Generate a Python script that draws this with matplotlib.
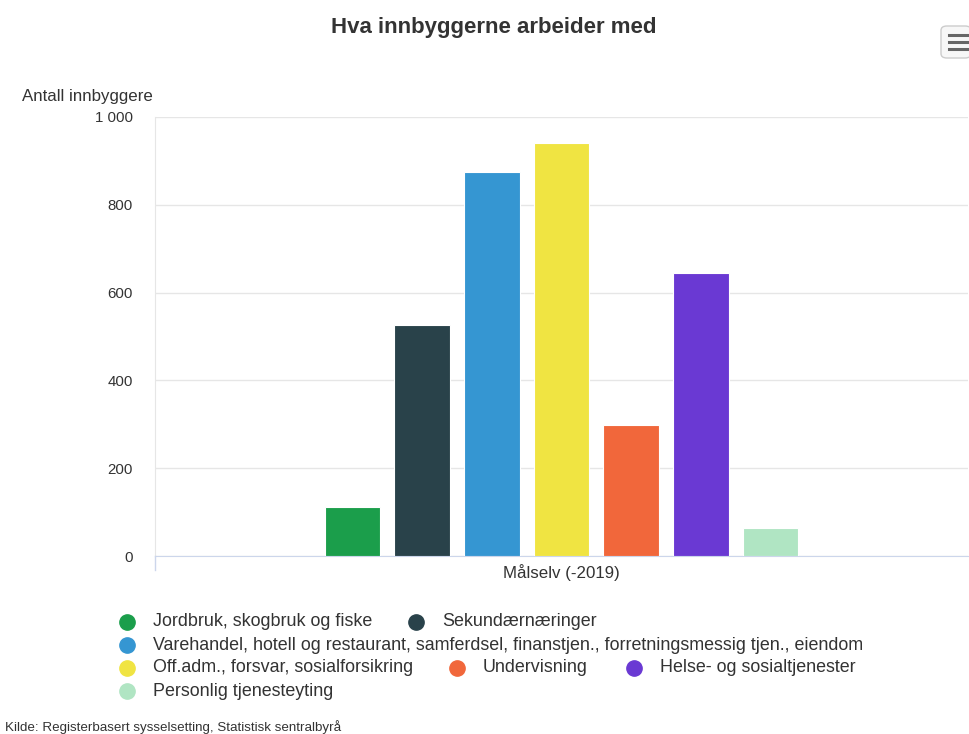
import matplotlib
matplotlib.use("Agg")
import matplotlib.pyplot as plt
from matplotlib.patches import FancyBboxPatch
from matplotlib.lines import Line2D

categories = ["Målselv (-2019)"]
series_names = [
    "Jordbruk, skogbruk og fiske",
    "Sekundærnæringer",
    "Varehandel, hotell og restaurant, samferdsel, finanstjen., forretningsmessig tjen., eiendom",
    "Off.adm., forsvar, sosialforsikring",
    "Undervisning",
    "Helse- og sosialtjenester",
    "Personlig tjenesteyting",
]
values = [112, 526, 875, 941, 298, 645, 64]
colors = ["#1b9e4b", "#29424a", "#3596d2", "#f0e442", "#f1673b", "#6a39d3", "#b0e5c3"]
yticks = [0, 200, 400, 600, 800, 1000]
ytick_labels = ["0", "200", "400", "600", "800", "1 000"]

plt.rcParams["font.family"] = ["Liberation Sans", "DejaVu Sans"]

W, H = 969, 734
fig = plt.figure(figsize=(W / 100, H / 100), dpi=100)
ax = fig.add_axes([155 / W, 1 - 556 / H, 813 / W, 439 / H])

n = len(values)
slot = 0.6 / n
for i, (v, c) in enumerate(zip(values, colors)):
    x = -0.3 + slot * (i + 0.5)
    ax.bar(x, v, width=slot * 0.8, color=c, edgecolor="white", linewidth=0.8, zorder=3)

ax.set_xlim(-0.5, 0.5)
ax.set_ylim(0, 1000)
ax.set_yticks(yticks)
ax.set_yticklabels(ytick_labels, fontsize=10.8, color="#333333")
ax.set_xticks([0])
ax.set_xticklabels(categories, fontsize=12.2, color="#333333")
ax.tick_params(axis="y", length=0, pad=16)
ax.tick_params(axis="x", length=0, pad=6)
ax.grid(axis="y", color="#e6e6e6", linewidth=1, zorder=0)
for s in ["top", "right"]:
    ax.spines[s].set_visible(False)
ax.spines["left"].set_color("#e6e6e6")
ax.spines["bottom"].set_color("#ccd6eb")
ax.spines["left"].set_zorder(1)

# x-axis tick mark at category edge
fig.add_artist(Line2D([155 / W, 155 / W], [1 - 556 / H, 1 - 570 / H], color="#ccd6eb", lw=1))

# Y axis title
fig.text(22 / W, 1 - 97 / H, "Antall innbyggere", fontsize=12.2, color="#333333", va="center", ha="left")

# Title
fig.text(494 / W, 1 - 28 / H, "Hva innbyggerne arbeider med", fontsize=16, fontweight="bold",
         color="#333333", ha="center", va="center")

# Menu button
btn = FancyBboxPatch((941 / W, 1 - 58 / H), 30 / W, 32 / H, boxstyle="round,pad=0,rounding_size=0.006",
                     transform=fig.transFigure, facecolor="#f7f7f7", edgecolor="#cccccc", lw=1)
fig.add_artist(btn)
for yy in [35, 42, 49]:
    fig.add_artist(Line2D([949 / W, 969 / W], [1 - yy / H, 1 - yy / H], color="#666666", lw=2.2))

# Legend
legend_rows = [
    [(0, 127), (1, 416)],
    [(2, 127)],
    [(3, 127), (4, 457), (5, 634)],
    [(6, 127)],
]
row_y = [622, 645, 668, 691]
for ry, row in zip(row_y, legend_rows):
    for idx, mx in row:
        fig.add_artist(Line2D([mx / W], [1 - ry / H], marker="o", markersize=11,
                              color=colors[idx], linestyle="none"))
        fig.text((mx + 26) / W, 1 - ry / H, series_names[idx], fontsize=12.9, color="#333333",
                 va="center", ha="left")

# Source
fig.text(5 / W, 1 - 727 / H, "Kilde: Registerbasert sysselsetting, Statistisk sentralbyrå", fontsize=9.6,
         color="#333333", va="center", ha="left")

fig.savefig("out.png", dpi=100, facecolor="white")
